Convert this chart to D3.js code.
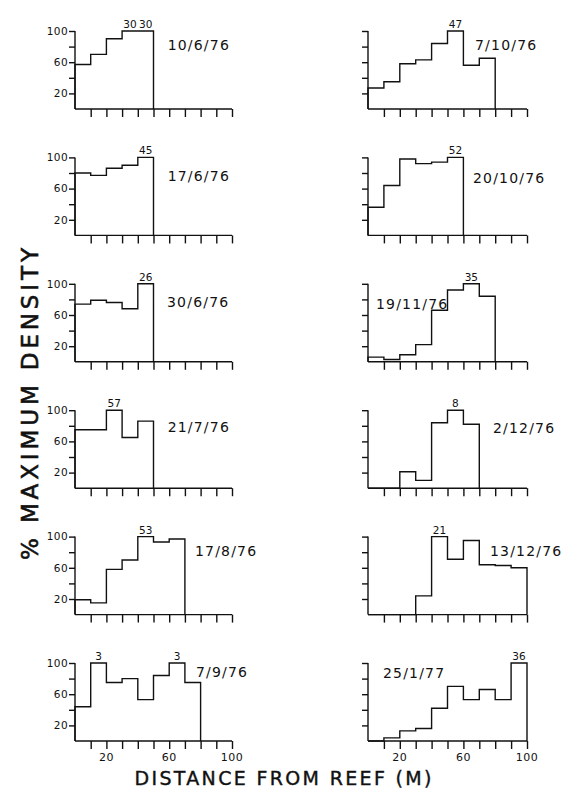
<!DOCTYPE html>
<html><head><meta charset="utf-8">
<script src="https://cdn.jsdelivr.net/npm/d3@7"></script>
<style>
html,body{margin:0;padding:0;background:#fff;}
svg{display:block;}
text{font-family:"DejaVu Sans",sans-serif;fill:#111;}
</style></head>
<body>
<script>
// ---------- DATA ----------
const binEdges = [0,10,20,30,40,50,60,70,80,90,100];
const xTicks = [10,20,30,40,50,60,70,80,90,100];
const yTicks = [20,40,60,80,100];
const yTickLabels = [20,60,100];
const xTickLabels = [20,60,100];

const datesLeft  = ["10/6/76","17/6/76","30/6/76","21/7/76","17/8/76","7/9/76"];
const datesRight = ["7/10/76","20/10/76","19/11/76","2/12/76","13/12/76","25/1/77"];

// % of maximum density per 10 m bin
const v10_6_76  = [57,70,90,100,100];
const v17_6_76  = [80,77,86,90,100];
const v30_6_76  = [74,79,76,68,100];
const v21_7_76  = [75,75,100,65,86];
const v17_8_76  = [19,15,58,70,100,93,97];
const v7_9_76   = [44,100,75,80,53,84,100,75];
const v7_10_76  = [27,35,58,63,84,100,56,65];
const v20_10_76 = [36,64,98,92,94,100];
const v19_11_76 = [6,3,9,22,66,92,100,84];
const v2_12_76  = [0,0,21,10,84,100,82];
const v13_12_76 = [0,0,0,24,100,71,95,64,63,60];
const v25_1_77  = [0,4,13,16,42,70,53,66,53,100];

// maximum-density counts written above peak bins: [bin index, text]
const n10_6_76  = [[3,"30"],[4,"30"]];
const n17_6_76  = [[4,"45"]];
const n30_6_76  = [[4,"26"]];
const n21_7_76  = [[2,"57"]];
const n17_8_76  = [[4,"53"]];
const n7_9_76   = [[1,"3"],[6,"3"]];
const n7_10_76  = [[5,"47"]];
const n20_10_76 = [[5,"52"]];
const n19_11_76 = [[6,"35"]];
const n2_12_76  = [[5,"8"]];
const n13_12_76 = [[4,"21"]];
const n25_1_77  = [[9,"36"]];

const valuesLeft  = [v10_6_76,v17_6_76,v30_6_76,v21_7_76,v17_8_76,v7_9_76];
const valuesRight = [v7_10_76,v20_10_76,v19_11_76,v2_12_76,v13_12_76,v25_1_77];
const countsLeft  = [n10_6_76,n17_6_76,n30_6_76,n21_7_76,n17_8_76,n7_9_76];
const countsRight = [n7_10_76,n20_10_76,n19_11_76,n2_12_76,n13_12_76,n25_1_77];

// ---------- LAYOUT ----------
const W = 562, H = 797;
const cols = [
  {x0:75, x1:232, labels:true},
  {x0:368, x1:527, labels:false}
];
const panelTop0 = 31, panelStep = 126.4, panelH = 78;
// date label placement in data units [metres, percent]
const dateLeftPos  = [[59,82],[59,76],[58.6,77],[59,78],[76.4,81.5],[77,88.5]];
const dateRightPos = [[67.3,82],[66,74],[5,74],[78.6,77],[76.7,81.5],[9.4,87]];

const svg = d3.select("body").append("svg").attr("width",W).attr("height",H);
const ink = "#111", sw = 1.4;

function drawPanel(col, row, values, counts, date, dpos, isBottom){
  const x = d3.scaleLinear().domain([0,100]).range([col.x0, col.x1]);
  const top = panelTop0 + row*panelStep;
  const y = d3.scaleLinear().domain([0,100]).range([top+panelH, top]);
  const g = svg.append("g");

  // x axis
  const xa = d3.axisBottom(x).tickValues(xTicks).tickSize(8).tickFormat("");
  const gx = g.append("g").attr("transform",`translate(0,${y(0)})`).call(xa);
  gx.select(".domain").attr("d",`M${x(0)},0H${x(100)}`);
  gx.selectAll("path,line").attr("stroke",ink).attr("stroke-width",sw);

  // y axis
  const ya = d3.axisLeft(y).tickValues(yTicks).tickSize(6)
      .tickFormat(d => (col.labels && yTickLabels.includes(d)) ? d : "");
  const gy = g.append("g").attr("transform",`translate(${x(0)},0)`).call(ya);
  gy.select(".domain").attr("d",`M0,${y(0)}V${y(100)}`);
  gy.selectAll("path,line").attr("stroke",ink).attr("stroke-width",sw);
  gy.selectAll("text").attr("font-size",10.5).attr("letter-spacing",0.4)
     .attr("x",-7).attr("fill",ink).attr("font-family","DejaVu Sans");

  // histogram outline
  const pts = [[0,0]];
  values.forEach((v,i)=>{ pts.push([binEdges[i],v]); pts.push([binEdges[i+1],v]); });
  pts.push([binEdges[values.length],0]);
  const line = d3.line().x(d=>x(d[0])).y(d=>y(d[1]));
  g.append("path").attr("d",line(pts)).attr("fill","none")
    .attr("stroke",ink).attr("stroke-width",sw).attr("stroke-linejoin","miter");

  // counts
  counts.forEach(([i,t])=>{
    g.append("text").attr("x",x((binEdges[i]+binEdges[i+1])/2))
      .attr("y",y(values[i])-3).attr("text-anchor","middle")
      .attr("font-size",10.5).text(t);
  });

  // date
  g.append("text").attr("x",x(dpos[0])).attr("y",y(dpos[1])+5)
    .attr("font-size",14).attr("letter-spacing",1.2).text(date);

  if(isBottom){
    xTickLabels.forEach(d=>{
      g.append("text").attr("x",x(d)).attr("y",y(0)+20).attr("text-anchor","middle")
        .attr("font-size",11).attr("letter-spacing",0.5).text(d);
    });
  }
}

datesLeft.forEach((d,i)=>drawPanel(cols[0],i,valuesLeft[i],countsLeft[i],d,dateLeftPos[i],i===5));
datesRight.forEach((d,i)=>drawPanel(cols[1],i,valuesRight[i],countsRight[i],d,dateRightPos[i],i===5));

// axis titles
svg.append("text").attr("x",283).attr("y",785).attr("text-anchor","middle")
  .attr("font-size",19).attr("textLength",297).attr("lengthAdjust","spacing")
  .attr("stroke","#111").attr("stroke-width",0.4)
  .text("DISTANCE FROM REEF (M)");
svg.append("text").attr("transform","translate(38,404) rotate(-90)")
  .attr("text-anchor","middle").attr("font-size",23)
  .attr("textLength",312).attr("lengthAdjust","spacing")
  .attr("stroke","#111").attr("stroke-width",0.6)
  .text("% MAXIMUM DENSITY");
</script>
</body></html>
